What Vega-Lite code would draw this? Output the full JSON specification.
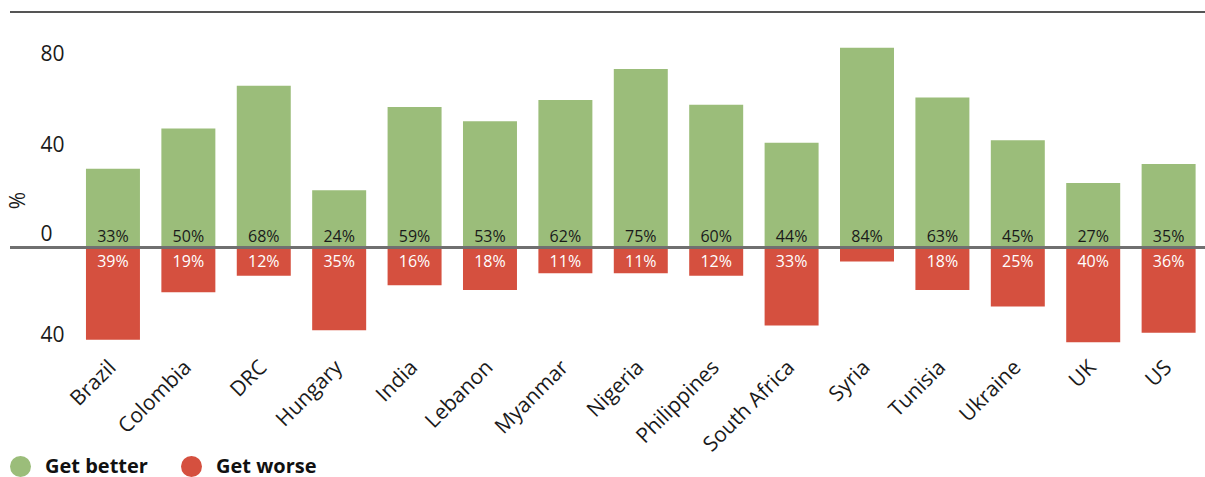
{
  "$schema": "https://vega.github.io/schema/vega-lite/v6.json",
  "autosize": {"type": "none"},
  "padding": {"left": 10, "top": 12, "right": 0, "bottom": 123},
  "width": 1195,
  "height": 342,
  "config": {
    "font": "Open Sans",
    "view": {"stroke": null},
    "background": "white"
  },
  "data": {
    "values": [
      {"country": "Brazil", "series": "Get better", "value": 33, "label": "33%"},
      {"country": "Brazil", "series": "Get worse", "value": -39, "label": "39%"},
      {"country": "Colombia", "series": "Get better", "value": 50, "label": "50%"},
      {"country": "Colombia", "series": "Get worse", "value": -19, "label": "19%"},
      {"country": "DRC", "series": "Get better", "value": 68, "label": "68%"},
      {"country": "DRC", "series": "Get worse", "value": -12, "label": "12%"},
      {"country": "Hungary", "series": "Get better", "value": 24, "label": "24%"},
      {"country": "Hungary", "series": "Get worse", "value": -35, "label": "35%"},
      {"country": "India", "series": "Get better", "value": 59, "label": "59%"},
      {"country": "India", "series": "Get worse", "value": -16, "label": "16%"},
      {"country": "Lebanon", "series": "Get better", "value": 53, "label": "53%"},
      {"country": "Lebanon", "series": "Get worse", "value": -18, "label": "18%"},
      {"country": "Myanmar", "series": "Get better", "value": 62, "label": "62%"},
      {"country": "Myanmar", "series": "Get worse", "value": -11, "label": "11%"},
      {"country": "Nigeria", "series": "Get better", "value": 75, "label": "75%"},
      {"country": "Nigeria", "series": "Get worse", "value": -11, "label": "11%"},
      {"country": "Philippines", "series": "Get better", "value": 60, "label": "60%"},
      {"country": "Philippines", "series": "Get worse", "value": -12, "label": "12%"},
      {"country": "South Africa", "series": "Get better", "value": 44, "label": "44%"},
      {"country": "South Africa", "series": "Get worse", "value": -33, "label": "33%"},
      {"country": "Syria", "series": "Get better", "value": 84, "label": "84%"},
      {"country": "Syria", "series": "Get worse", "value": -6, "label": ""},
      {"country": "Tunisia", "series": "Get better", "value": 63, "label": "63%"},
      {"country": "Tunisia", "series": "Get worse", "value": -18, "label": "18%"},
      {"country": "Ukraine", "series": "Get better", "value": 45, "label": "45%"},
      {"country": "Ukraine", "series": "Get worse", "value": -25, "label": "25%"},
      {"country": "UK", "series": "Get better", "value": 27, "label": "27%"},
      {"country": "UK", "series": "Get worse", "value": -40, "label": "40%"},
      {"country": "US", "series": "Get better", "value": 35, "label": "35%"},
      {"country": "US", "series": "Get worse", "value": -36, "label": "36%"}
    ]
  },
  "encoding": {
    "x": {
      "field": "country",
      "type": "nominal",
      "sort": null,
      "scale": {"paddingInner": 0.284, "paddingOuter": 0.566, "align": 0.89},
      "axis": {
        "title": null,
        "domain": false,
        "ticks": false,
        "labelAngle": -45,
        "labelAlign": "right",
        "labelBaseline": "middle",
        "labelPadding": 10,
        "labelFontSize": 21,
        "labelColor": "#1a1a1a"
      }
    },
    "y": {
      "field": "value",
      "type": "quantitative",
      "scale": {"domain": [-45, 99], "nice": false, "zero": false},
      "axis": {
        "title": "%",
        "titleAngle": -90,
        "titleFontSize": 21,
        "titleFontWeight": "normal",
        "titleColor": "#1a1a1a",
        "titleX": -22,
        "titleY": 188,
        "titleAlign": "center",
        "titleBaseline": "middle",
        "values": [-40, 0, 40, 80],
        "labelExpr": "abs(datum.value)",
        "grid": false,
        "domain": false,
        "ticks": false,
        "offset": -30,
        "labelAlign": "left",
        "labelPadding": 0,
        "labelFontSize": 21,
        "labelColor": "#1a1a1a",
        "labelOffset": {
          "condition": [
            {"test": "datum.value === 0", "value": -13},
            {"test": "datum.value === 80", "value": -3}
          ],
          "value": -7
        }
      }
    }
  },
  "layer": [
    {
      "mark": {"type": "bar"},
      "encoding": {
        "y": {"field": "value", "type": "quantitative", "stack": null},
        "color": {
          "field": "series",
          "type": "nominal",
          "scale": {"domain": ["Get better", "Get worse"], "range": ["#9bbd7a", "#d5503f"]},
          "legend": {
            "title": null,
            "orient": "none",
            "legendX": 0,
            "legendY": 444,
            "direction": "horizontal",
            "symbolType": "circle",
            "symbolSize": 441,
            "symbolStrokeWidth": 0,
            "symbolOpacity": 1,
            "labelFontSize": 20,
            "labelFontWeight": "bold",
            "labelColor": "#111111",
            "labelOffset": 14,
            "columnPadding": 33,
            "padding": 0
          }
        }
      }
    },
    {
      "transform": [{"filter": "datum.series === 'Get better'"}],
      "mark": {"type": "text", "baseline": "alphabetic", "dy": -5, "fontSize": 16, "color": "#1a1a1a"},
      "encoding": {
        "y": {"datum": 0},
        "text": {"field": "label"}
      }
    },
    {
      "transform": [{"filter": "datum.series === 'Get worse'"}],
      "mark": {"type": "text", "baseline": "alphabetic", "dy": 20, "fontSize": 16, "color": "#ffffff"},
      "encoding": {
        "y": {"datum": 0},
        "text": {"field": "label"}
      }
    },
    {
      "mark": {"type": "rule", "color": "#707070", "strokeWidth": 2},
      "encoding": {"y": {"datum": 0}, "x": null}
    },
    {
      "mark": {"type": "rule", "color": "#555555", "strokeWidth": 2},
      "encoding": {"y": {"datum": 99}, "x": null}
    }
  ]
}
